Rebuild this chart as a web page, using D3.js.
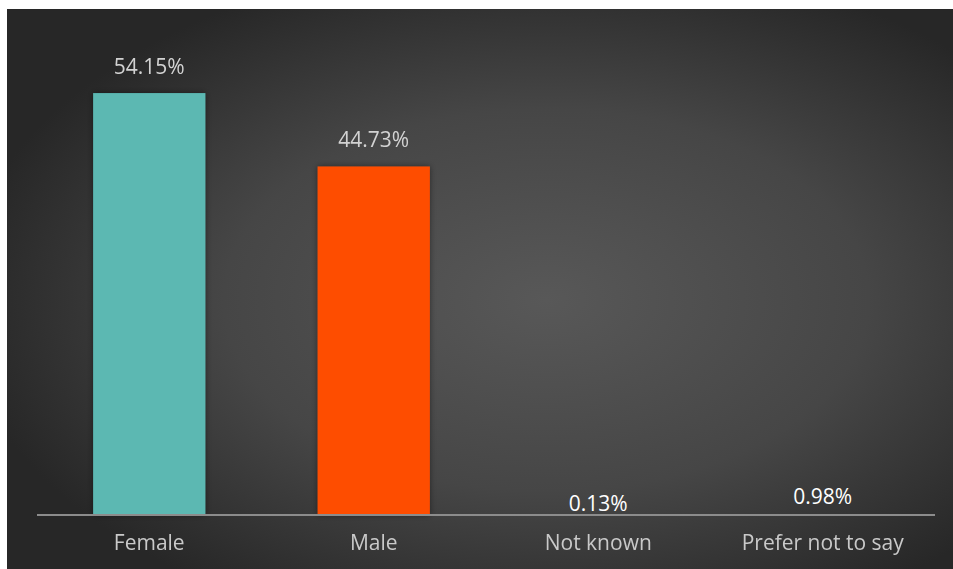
<!DOCTYPE html>
<html>
<head>
<meta charset="utf-8">
<script src="https://cdn.jsdelivr.net/npm/d3@7"></script>
<style>
  html, body { margin: 0; padding: 0; background: #ffffff; }
  svg { display: block; }
</style>
</head>
<body>
<svg id="chart" width="953" height="569"></svg>
<script>
// Respondents by gender (percent)
const categories = ["Female", "Male", "Not known", "Prefer not to say"];
const values = [54.15, 44.73, 0.13, 0.98];
const valueLabels = ["54.15%", "44.73%", "0.13%", "0.98%"];
const barColors = ["#5bb8b2", "#fe4d00", "none", "none"];

const W = 953, H = 569;
const svg = d3.select("#chart");
const defs = svg.append("defs");

// Dark panel with a soft radial light in the middle
const grad = defs.append("radialGradient")
  .attr("id", "bg")
  .attr("cx", "57%").attr("cy", "52%").attr("r", "62%");
grad.append("stop").attr("offset", "0%").attr("stop-color", "#585858");
grad.append("stop").attr("offset", "55%").attr("stop-color", "#464646");
grad.append("stop").attr("offset", "100%").attr("stop-color", "#272727");

const shadow = defs.append("filter").attr("id", "shadow")
  .attr("x", "-20%").attr("y", "-20%").attr("width", "140%").attr("height", "140%");
shadow.append("feDropShadow")
  .attr("dx", 0).attr("dy", 0).attr("stdDeviation", 3)
  .attr("flood-color", "#000").attr("flood-opacity", 0.45);

const soft = defs.append("filter").attr("id", "soft");
soft.append("feGaussianBlur").attr("stdDeviation", 0.45);

svg.append("rect")
  .attr("x", 7).attr("y", 9)
  .attr("width", W - 7).attr("height", H - 9)
  .attr("fill", "url(#bg)");

const plot = { left: 37, right: 935, top: 47.5, bottom: 515 };

const x = d3.scaleBand()
  .domain(categories)
  .range([plot.left, plot.right])
  .paddingInner(0.5)
  .paddingOuter(0.25);

const y = d3.scaleLinear()
  .domain([0, 60])
  .range([plot.bottom, plot.top]);

const data = categories.map((c, i) => ({
  cat: c, value: values[i], label: valueLabels[i], color: barColors[i]
}));

// Bars
svg.append("g").selectAll("rect")
  .data(data)
  .join("rect")
  .attr("x", d => x(d.cat))
  .attr("y", d => y(d.value))
  .attr("width", x.bandwidth())
  .attr("height", d => y(0) - y(d.value))
  .attr("fill", d => d.color)
  .attr("filter", d => d.color === "none" ? null : "url(#shadow)");

// Category axis
const axis = svg.append("g")
  .attr("transform", `translate(0,${plot.bottom})`)
  .call(d3.axisBottom(x).tickSize(0).tickPadding(20));
axis.select(".domain")
  .attr("d", `M${plot.left},0H${plot.right}`)
  .attr("stroke", "#8c8c8c")
  .attr("stroke-width", 2);
axis.selectAll("text")
  .attr("font-family", "'Open Sans', sans-serif")
  .attr("font-size", 21)
  .attr("fill", "#c9c9c9")
  .attr("filter", "url(#soft)");

// Value labels
svg.append("g").selectAll("text")
  .data(data)
  .join("text")
  .attr("x", d => x(d.cat) + x.bandwidth() / 2)
  .attr("y", d => y(d.value) - (d.value > 5 ? 19 : 3))
  .attr("text-anchor", "middle")
  .attr("font-family", "'Open Sans', sans-serif")
  .attr("font-size", 21)
  .attr("fill", d => d.value > 5 ? "#d2d2d2" : "#ffffff")
  .attr("filter", d => d.value > 5 ? "url(#soft)" : null)
  .text(d => d.label);
</script>
</body>
</html>
